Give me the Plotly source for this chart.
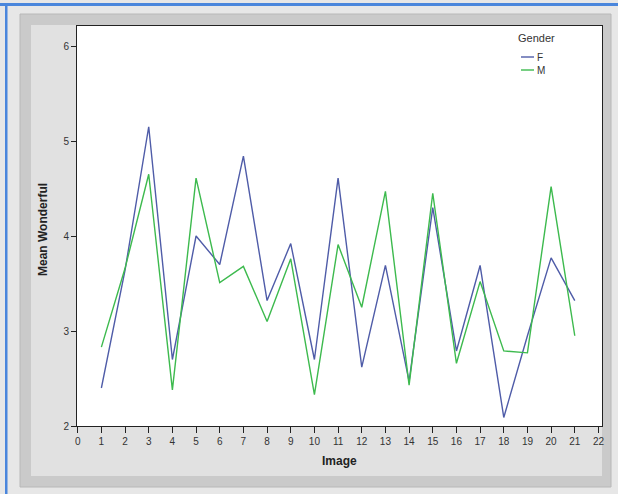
import plotly.graph_objects as go

# Mean "Wonderful" rating per image, split by gender
images = list(range(1, 22))
mean_f = [2.40, 3.64, 5.15, 2.70, 4.00, 3.70, 4.84, 3.32, 3.92, 2.70, 4.61,
          2.62, 3.69, 2.47, 4.30, 2.79, 3.69, 2.09, 2.95, 3.77, 3.32]
mean_m = [2.83, 3.66, 4.65, 2.38, 4.61, 3.51, 3.68, 3.10, 3.76, 2.33, 3.91,
          3.25, 4.47, 2.43, 4.45, 2.66, 3.52, 2.79, 2.77, 4.52, 2.95]
series_names = ["F", "M"]
series_colors = ["#4f5ca8", "#3dba4e"]

x_ticks = list(range(0, 23))
y_ticks = [2, 3, 4, 5, 6]

W, H = 618, 494
L, R, T, B = 77, 602, 26, 426  # plot area box in page pixels


def px(x):
    return (x - L) / (R - L)


def py(y):
    return (B - y) / (B - T)


FONT = "Arial, Liberation Sans, sans-serif"

fig = go.Figure()
for name, vals, col in zip(series_names, [mean_f, mean_m], series_colors):
    fig.add_trace(go.Scatter(x=images, y=vals, mode="lines", name=name,
                             line=dict(color=col, width=1.4),
                             showlegend=False))

shapes = [
    # page border strokes
    dict(type="rect", xref="paper", yref="paper", x0=px(0), x1=px(W),
         y0=py(6), y1=py(3), fillcolor="#4a86dc", line_width=0, layer="below"),
    dict(type="rect", xref="paper", yref="paper", x0=px(5), x1=px(7.5),
         y0=py(H), y1=py(3), fillcolor="#4a86dc", line_width=0, layer="below"),
    # chart frame
    dict(type="rect", xref="paper", yref="paper", x0=px(20), x1=px(611),
         y0=py(487), y1=py(14), fillcolor="#cacaca", line=dict(color="#b8b8b8", width=1),
         layer="below"),
    dict(type="rect", xref="paper", yref="paper", x0=px(31), x1=px(602),
         y0=py(476), y1=py(25), fillcolor="#e1e1e1", line_width=0, layer="below"),
    dict(type="rect", xref="paper", yref="paper", x0=0, x1=1, y0=0, y1=1,
         fillcolor="white", line_width=0, layer="below"),
]

# legend keys
leg_y = [57, 70]
for yy, col in zip(leg_y, series_colors):
    shapes.append(dict(type="line", xref="paper", yref="paper",
                       x0=px(521), x1=px(534), y0=py(yy), y1=py(yy),
                       line=dict(color=col, width=1.4)))

annotations = [
    dict(text="<b>Mean Wonderful</b>", xref="paper", yref="paper",
         x=px(43), y=py(230), textangle=-90, showarrow=False,
         font=dict(family=FONT, size=12, color="#222"),
         xanchor="center", yanchor="middle"),
    dict(text="<b>Image</b>", xref="paper", yref="paper",
         x=px(339), y=py(461), showarrow=False,
         font=dict(family=FONT, size=12, color="#222"),
         xanchor="center", yanchor="middle"),
    dict(text="Gender", xref="paper", yref="paper",
         x=px(536), y=py(38), showarrow=False,
         font=dict(family=FONT, size=11, color="#333"),
         xanchor="center", yanchor="middle"),
]
for yy, name in zip(leg_y, series_names):
    annotations.append(dict(text=name, xref="paper", yref="paper",
                            x=px(535), y=py(yy), showarrow=False,
                            font=dict(family=FONT, size=10, color="#333"),
                            xanchor="left", yanchor="middle"))

fig.update_layout(
    width=W, height=H,
    margin=dict(l=L, r=W - R, t=T, b=H - B, pad=0),
    paper_bgcolor="#e7e7e7",
    plot_bgcolor="white",
    shapes=shapes,
    annotations=annotations,
    showlegend=False,
    xaxis=dict(range=[-0.03, 22.15], tickvals=x_ticks, ticktext=[str(v) for v in x_ticks],
               ticks="outside", ticklen=6, tickcolor="#222", tickwidth=1,
               showline=True, linecolor="#222", linewidth=1, mirror=True,
               showgrid=False, zeroline=False,
               tickfont=dict(family=FONT, size=10, color="#333")),
    yaxis=dict(range=[2, 2 + 400 / 95], tickvals=y_ticks,
               ticks="outside", ticklen=5, tickcolor="#222", tickwidth=1,
               showline=True, linecolor="#222", linewidth=1, mirror=True,
               showgrid=False, zeroline=False,
               tickfont=dict(family=FONT, size=10, color="#333")),
)

fig.write_html("out.html")
